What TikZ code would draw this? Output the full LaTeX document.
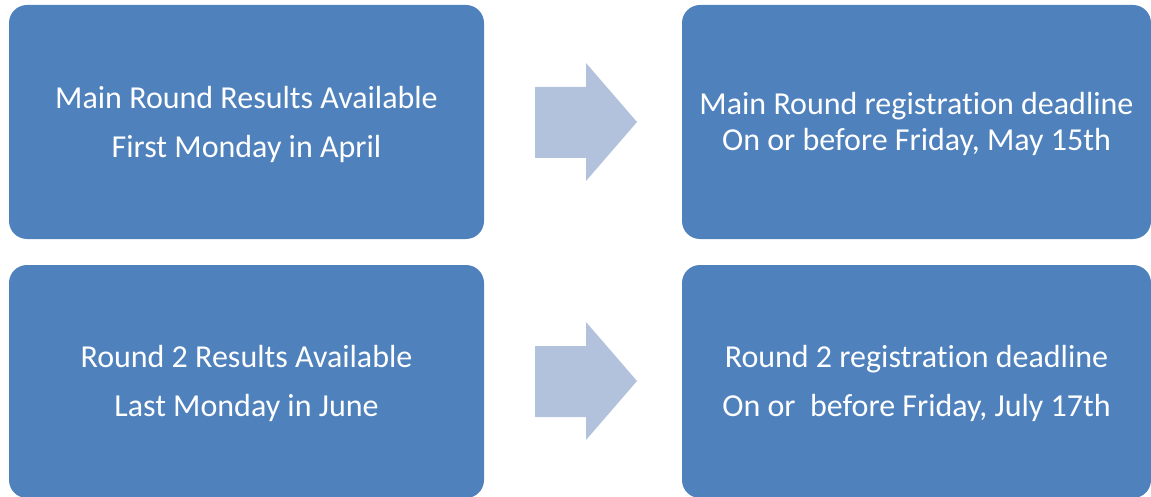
\documentclass[tikz,border=0pt]{standalone}
\usepackage{fontspec}
\setmainfont[Ligatures=NoCommon]{Carlito}
\definecolor{boxblue}{HTML}{4F81BD}
\definecolor{arrowblue}{HTML}{B3C2DC}
\tikzset{
  stagebox/.style={fill=boxblue, draw=none, rounded corners=18pt, minimum width=475pt, inner sep=0pt},
  stagetext/.style={text=white, align=center, inner sep=0pt, font=\fontsize{32}{49}\selectfont},
  stagetext2/.style={stagetext, font=\fontsize{32}{36}\selectfont},
  flowarrow/.style={fill=arrowblue, draw=none}
}
\begin{document}
\begin{tikzpicture}[x=1pt,y=-1pt]
\useasboundingbox (0,0) rectangle (1151,497);
\node[stagebox, minimum height=234pt] (a) at (246.5,122) {};
\node[stagebox, minimum width=469pt, minimum height=234pt] (b) at (916.5,122) {};
\node[stagebox, minimum height=233pt] (c) at (246.5,381.5) {};
\node[stagebox, minimum width=469pt, minimum height=233pt] (d) at (916.5,381.5) {};
\node[stagetext, yshift=-2pt] (ta) at (a.center) {Main Round Results Available\\First Monday in April};
\node[stagetext2, yshift=-2pt] (tb) at (b.center) {Main Round registration deadline\\On or before Friday, May 15th};
\node[stagetext, yshift=-2pt] (tc) at (c.center) {Round 2 Results Available\\Last Monday in June};
\node[stagetext, yshift=-2pt] (td) at (d.center) {Round 2 registration deadline\\On or\ \ before Friday, July 17th};
\fill[flowarrow] (535,87) -- (586,87) -- (586,63) -- (637,122) -- (586,181) -- (586,158) -- (535,158) -- cycle;
\fill[flowarrow] (535,346) -- (586,346) -- (586,322) -- (637,381) -- (586,440) -- (586,417) -- (535,417) -- cycle;
\end{tikzpicture}
\end{document}
